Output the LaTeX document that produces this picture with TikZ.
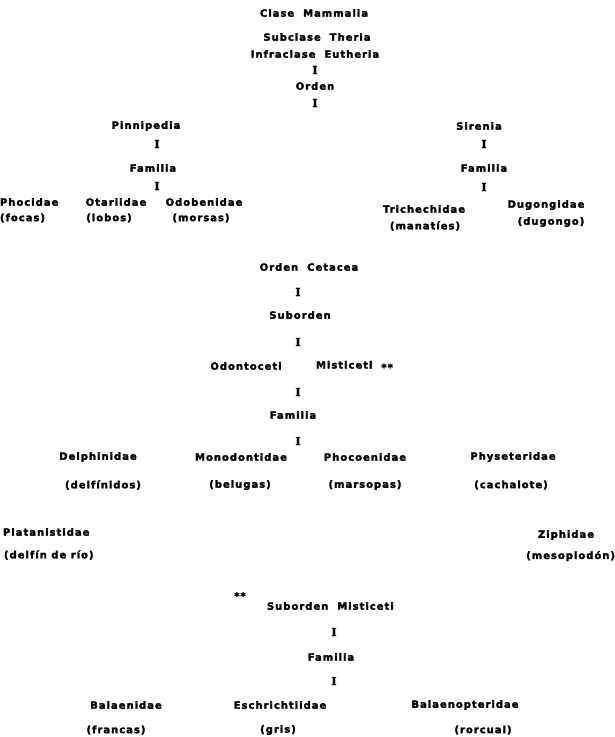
\documentclass[tikz,border=0pt]{standalone}
\usepackage{fontspec}
\setmainfont{DejaVu Sans}
\newfontfamily\maquina{DejaVu Sans}[LetterSpace=10, BoldFeatures={FakeBold=2.5}]
\newfontfamily\barfont{DejaVu Serif}[BoldFeatures={FakeBold=2.5}]
\usepackage{tikz}
\usetikzlibrary{positioning}

\begin{document}
\begin{tikzpicture}[
            x=1pt, y=-1pt,                      % coordenadas en pixeles, y hacia abajo
            every node/.style={inner sep=0pt, outer sep=0pt},
            taxon/.style={
                font=\fontsize{10}{12}\maquina\bfseries
            },
            comun/.style={
                font=\fontsize{10}{12}\maquina\bfseries
            },
            barra/.style={
                font=\fontsize{11}{12}\barfont\bfseries
            }
        ]
            \useasboundingbox (0,0) rectangle (615,737);

            % --- NODOS CLASE ---
            \node [taxon] (clase) at (314,13) {Clase\ \ Mammalia};
            \node [taxon] (subclase) at (317,37) {Subclase\ \ Theria};
            \node [taxon] (infraclase) at (315,54) {Infraclase\ \ Eutheria};
            \node [barra] (barA) at (315,70) {I};
            \node [taxon] (orden) at (315,86) {Orden};
            \node [barra] (barB) at (315,103) {I};

            % --- NODOS PINNIPEDIA ---
            \node [taxon] (pinnipedia) at (146,126) {Pinnipedia};
            \node [barra] (barC) at (157,144) {I};
            \node [taxon] (familiaP) at (153,168) {Familia};
            \node [barra] (barD) at (157,186) {I};
            \node [taxon, anchor=west] (phocidae) at (0,202) {Phocidae};
            \node [comun, anchor=west] (focas) at (0,218) {(focas)};
            \node [taxon] (otariidae) at (116,202) {Otariidae};
            \node [comun] (lobos) at (109,218) {(lobos)};
            \node [taxon] (odobenidae) at (204,202) {Odobenidae};
            \node [comun] (morsas) at (201,218) {(morsas)};

            % --- NODOS SIRENIA ---
            \node [taxon] (sirenia) at (479,126) {Sirenia};
            \node [barra] (barE) at (484,144) {I};
            \node [taxon] (familiaS) at (484,168) {Familia};
            \node [barra] (barF) at (484,187) {I};
            \node [taxon] (trichechidae) at (424,209) {Trichechidae};
            \node [comun] (manaties) at (425,226) {(manatíes)};
            \node [taxon] (dugongidae) at (546,205) {Dugongidae};
            \node [comun] (dugongo) at (551,222) {(dugongo)};

            % --- NODOS CETACEA ---
            \node [taxon] (cetacea) at (309,267) {Orden\ \ Cetacea};
            \node [barra] (barG) at (298,292) {I};
            \node [taxon] (subordenC) at (300,315) {Suborden};
            \node [barra] (barH) at (298,342) {I};
            \node [taxon] (odontoceti) at (246,366) {Odontoceti};
            \node [taxon, anchor=west] (misticeti) at (316,366) {Misticeti\ \ \raisebox{-2.5pt}{**}};
            \node [barra] (barI) at (298,392) {I};
            \node [taxon] (familiaC) at (293,415) {Familia};
            \node [barra] (barJ) at (298,441) {I};
            \node [taxon] (delphinidae) at (98,457) {Delphinidae};
            \node [comun] (delfinidos) at (103,485) {(delfínidos)};
            \node [taxon] (monodontidae) at (241,457) {Monodontidae};
            \node [comun] (belugas) at (240,485) {(belugas)};
            \node [taxon] (phocoenidae) at (365,457) {Phocoenidae};
            \node [comun] (marsopas) at (365,485) {(marsopas)};
            \node [taxon] (physeteridae) at (513,457) {Physeteridae};
            \node [comun] (cachalote) at (511,485) {(cachalote)};
            \node [taxon, anchor=west] (platanistidae) at (3,532) {Platanistidae};
            \node [comun, anchor=west] (delfinrio) at (4,555) {(delfín de río)};
            \node [taxon] (ziphidae) at (566,535) {Ziphidae};
            \node [comun, anchor=east] (mesoplodon) at (615,556) {(mesoplodón)};

            % --- NODOS MISTICETI ---
            \node [taxon] (estrellas) at (240,596) {\raisebox{-2.5pt}{**}};
            \node [taxon, anchor=west] (subordenM) at (267,606) {Suborden\ \ Misticeti};
            \node [barra] (barK) at (334,632) {I};
            \node [taxon] (familiaM) at (331,657) {Familia};
            \node [barra] (barL) at (334,681) {I};
            \node [taxon] (balaenidae) at (126,705) {Balaenidae};
            \node [comun] (francas) at (116,730) {(francas)};
            \node [taxon] (eschrichtiidae) at (280,705) {Eschrichtiidae};
            \node [comun] (gris) at (278,730) {(gris)};
            \node [taxon] (balaenopteridae) at (465,705) {Balaenopteridae};
            \node [comun] (rorcual) at (483,730) {(rorcual)};
        \end{tikzpicture}
\end{document}
